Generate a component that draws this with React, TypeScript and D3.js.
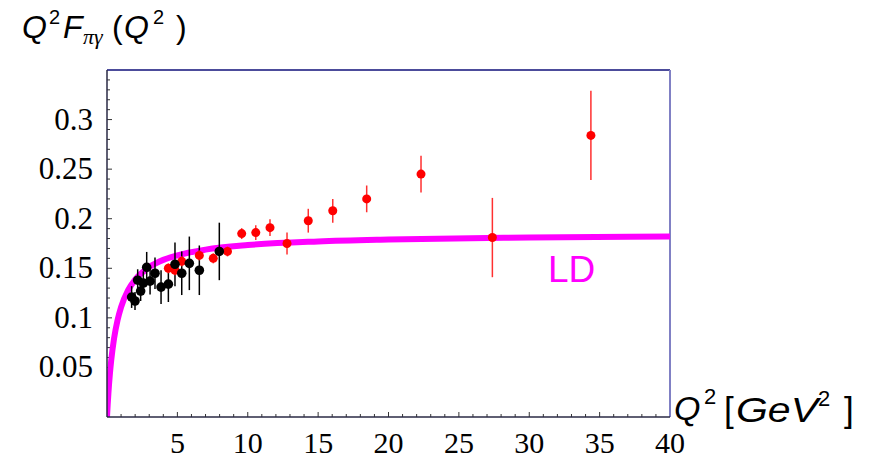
import React from "react";
import * as d3 from "d3";

// LD curve
const curveQ2 = [0, 0.05, 0.1, 0.2, 0.3, 0.5, 0.75, 1, 1.5, 2, 3, 4, 5, 7, 10, 15, 20, 30, 40];
const curveVal = [0, 0.0128, 0.024, 0.0425, 0.0572, 0.0791, 0.0977, 0.1108, 0.1279, 0.1386, 0.1512, 0.1585, 0.1631, 0.1688, 0.1734, 0.1771, 0.179, 0.181, 0.182];

// CELLO (black)
const celloQ2 = [1.75, 1.99, 2.18, 2.39, 2.58, 2.82, 3.06, 3.41, 3.84, 4.36, 4.83, 5.31, 5.85, 6.56, 7.98];
const celloVal = [0.121, 0.117, 0.138, 0.127, 0.135, 0.151, 0.137, 0.145, 0.131, 0.134, 0.154, 0.145, 0.155, 0.148, 0.167];
const celloErr = [0.011, 0.009, 0.011, 0.01, 0.012, 0.0155, 0.0135, 0.016, 0.017, 0.018, 0.022, 0.022, 0.027, 0.025, 0.029];

// CLEO (red)
const cleoQ2 = [4.36, 4.83, 5.31, 6.56, 7.55, 8.56, 9.57, 10.57, 11.58, 12.79, 14.3, 16.04, 18.45, 22.31, 27.38, 34.38];
const cleoVal = [0.15, 0.148, 0.157, 0.163, 0.16, 0.167, 0.185, 0.186, 0.191, 0.175, 0.198, 0.208, 0.22, 0.245, 0.181, 0.284];
const cleoErr = [0.005, 0.005, 0.005, 0.005, 0.005, 0.005, 0.0055, 0.0075, 0.0085, 0.011, 0.012, 0.012, 0.0135, 0.0185, 0.04, 0.045];

const xTicks = [5, 10, 15, 20, 25, 30, 35, 40];
const yTicks = [0.05, 0.1, 0.15, 0.2, 0.25, 0.3];

const W = 871;
const H = 465;

const App = () => {
  const x = d3.scaleLinear().domain([0, 40]).range([107, 670]);
  const y = d3.scaleLinear().domain([0, 0.35]).range([417, 70]);

  const line = d3
    .line<number>()
    .x((d, i) => x(curveQ2[i]))
    .y(d => y(d))
    .curve(d3.curveMonotoneX);

  const xMinor = d3.range(1, 40);
  const yMinor = d3.range(1, 35).map(v => v / 100);

  const serif = "'Liberation Serif', 'Times New Roman', serif";
  const sans = "'Liberation Sans', Arial, sans-serif";

  return (
    <svg width={W} height={H} style={{ position: "absolute", left: 0, top: 0 }}>
      <rect width={W} height={H} fill="#fff" />
      <defs>
        <clipPath id="plot">
          <rect x={x(0)} y={y(0.35)} width={x(40) - x(0)} height={y(0) - y(0.35)} />
        </clipPath>
      </defs>

      {/* frame */}
      <line x1={x(0)} x2={x(40)} y1={y(0.35)} y2={y(0.35)} stroke="#10107a" strokeWidth={1.5} />
      <line x1={x(40)} x2={x(40)} y1={y(0.35)} y2={y(0)} stroke="#8080c4" strokeWidth={2} />

      {/* ticks */}
      {xMinor.map(t => (
        <line key={"xm" + t} x1={x(t)} x2={x(t)} y1={y(0)} y2={y(0) - (t % 5 === 0 ? 5 : 3)} stroke="#333" strokeWidth={1} />
      ))}
      {yMinor.map(t => (
        <line key={"ym" + t} x1={x(0)} x2={x(0) + (Math.round(t * 100) % 5 === 0 ? 5 : 3)} y1={y(t)} y2={y(t)} stroke="#333" strokeWidth={1} />
      ))}

      <g clipPath="url(#plot)">
        <path d={line(curveVal) || ""} fill="none" stroke="#ff00ff" strokeWidth={6} />
      </g>

      {/* CELLO error bars */}
      {celloQ2.map((q, i) => (
        <line key={"c" + i} x1={x(q)} x2={x(q)} y1={y(celloVal[i] - celloErr[i])} y2={y(celloVal[i] + celloErr[i])} stroke="#000" strokeWidth={1.5} />
      ))}
      {/* CLEO */}
      {cleoQ2.map((q, i) => (
        <g key={"r" + i}>
          <line x1={x(q)} x2={x(q)} y1={y(cleoVal[i] - cleoErr[i])} y2={y(cleoVal[i] + cleoErr[i])} stroke="#ff3030" strokeWidth={1.5} />
          <circle cx={x(q)} cy={y(cleoVal[i])} r={4.5} fill="#ff0000" />
        </g>
      ))}
      {celloQ2.map((q, i) => (
        <circle key={"cc" + i} cx={x(q)} cy={y(celloVal[i])} r={4.8} fill="#000" />
      ))}

      {/* axes */}
      <line x1={x(0)} x2={x(0)} y1={y(0.35)} y2={y(0)} stroke="#2a2a44" strokeWidth={1.5} />
      <line x1={x(0)} x2={x(40)} y1={y(0)} y2={y(0)} stroke="#2a2a44" strokeWidth={1.5} />

      {xTicks.map(t => (
        <text key={"xt" + t} x={x(t)} y={453} textAnchor="middle" fontFamily={serif} fontSize={30} fill="#000">
          {t}
        </text>
      ))}
      {yTicks.map(t => (
        <text key={"yt" + t} x={93} y={y(t) + 10} textAnchor="end" fontFamily={serif} fontSize={31} fill="#000">
          {t}
        </text>
      ))}

      {/* title */}
      <g fontFamily={sans} fill="#000">
        <text x={22} y={38} fontSize={32} fontStyle="italic">Q</text>
        <text x={49} y={24} fontSize={20}>2</text>
        <text x={63} y={38} fontSize={32} fontStyle="italic">F</text>
        <text x={83} y={44} fontSize={22} fontStyle="italic" fontFamily={serif}>πγ</text>
        <text x={112} y={38} fontSize={32}>(</text>
        <text x={124} y={38} fontSize={32} fontStyle="italic">Q</text>
        <text x={153} y={24} fontSize={20}>2</text>
        <text x={176} y={38} fontSize={32}>)</text>
      </g>

      {/* x label */}
      <g fontFamily={sans} fill="#000">
        <text x={674} y={420} fontSize={34} fontStyle="italic">Q</text>
        <text x={704} y={404} fontSize={22}>2</text>
        <text x={724} y={422} fontSize={35}>[</text>
        <text x={736} y={422} fontSize={35} fontStyle="italic" textLength={82} lengthAdjust="spacingAndGlyphs">GeV</text>
        <text x={818} y={406} fontSize={22}>2</text>
        <text x={844} y={422} fontSize={35}>]</text>
      </g>

      <text x={548} y={282} fontFamily={sans} fontSize={37} fill="#ff00ff">
        LD
      </text>
    </svg>
  );
};

export default App;
